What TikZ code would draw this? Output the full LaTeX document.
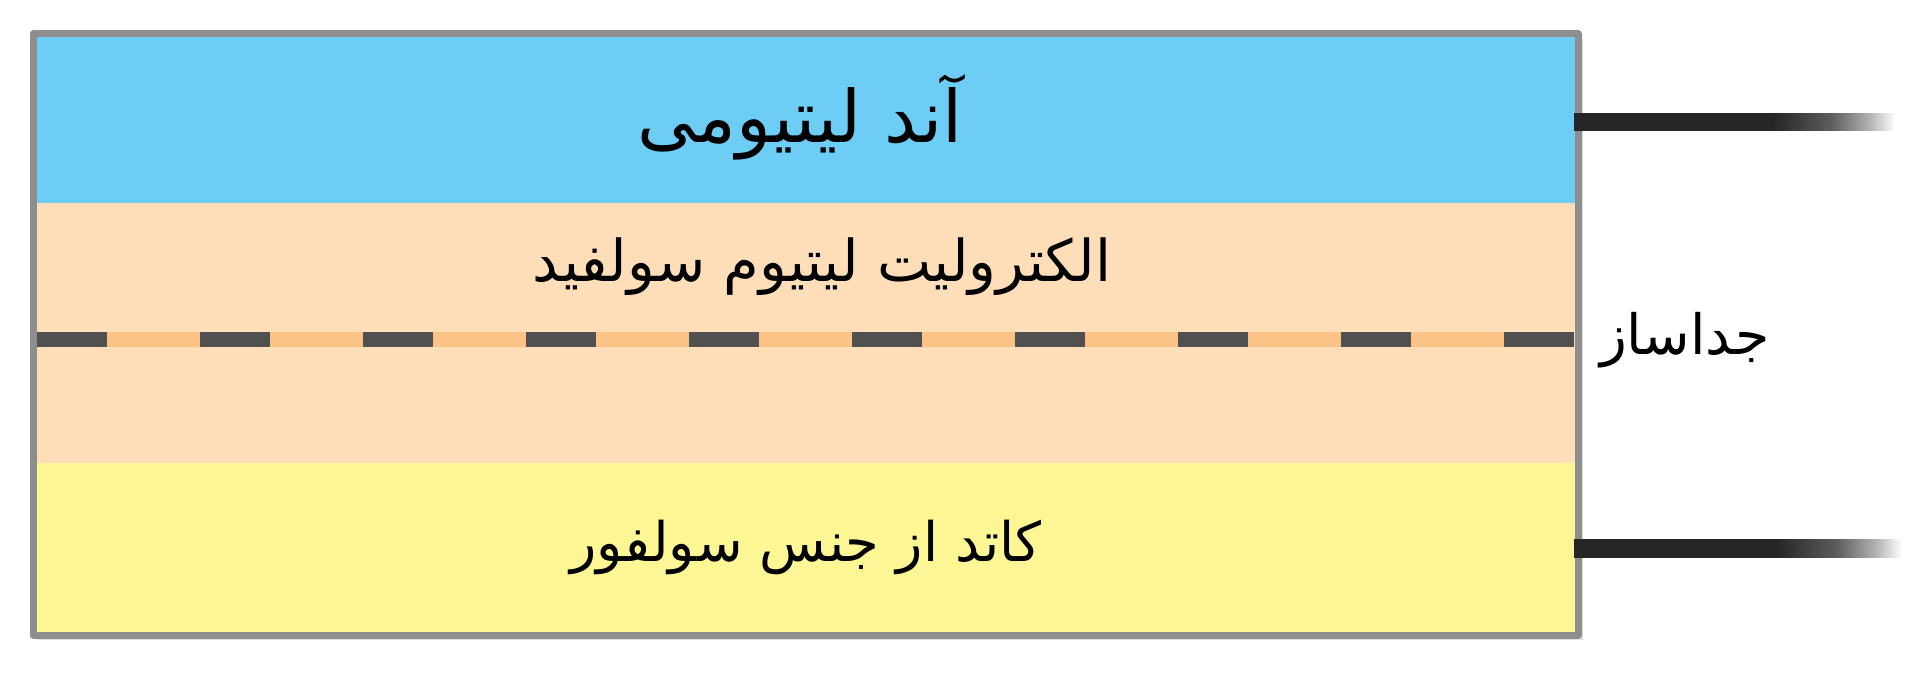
\documentclass[tikz,border=0pt]{standalone}
\usepackage{fontspec}
\newfontfamily\farsi[Script=Arabic]{DejaVu Sans}
\TeXXeTstate=1
\usetikzlibrary{positioning}
\definecolor{anodeblue}{HTML}{6ECDF5}
\definecolor{electropeach}{HTML}{FEDDB9}
\definecolor{cathodeyellow}{HTML}{FDF694}
\definecolor{sepdark}{HTML}{505050}
\definecolor{seporange}{HTML}{FBC486}
\definecolor{framegray}{HTML}{8E8E8E}
\definecolor{wiredark}{HTML}{262626}
\pgfdeclarehorizontalshading{wireshade}{100bp}{color(0bp)=(wiredark); color(25bp)=(wiredark); color(56bp)=(wiredark); color(65bp)=(wiredark!75); color(71bp)=(wiredark!35); color(75bp)=(white); color(100bp)=(white)}
\begin{document}
\begin{tikzpicture}[line join=round,thick]
	\tikzset{layer text/.style={font=\farsi\fontsize{15.8}{19}\selectfont, text=black},
		wire/.style={shading=wireshade}}
	\useasboundingbox (0,0) rectangle (19.2,6.75);
	% shadow and layers
	\fill[black!12] (0.38,0.35) rectangle (15.83,6.36);
	\fill[anodeblue] (0.33,4.72) rectangle (15.78,6.41);
	\fill[electropeach] (0.33,2.12) rectangle (15.78,4.72);
	\fill[cathodeyellow] (0.33,0.40) rectangle (15.78,2.12);
	\draw[framegray,line width=0.07cm] (0.33,0.40) rectangle (15.78,6.41);
	% separator
	\draw[seporange,line width=0.15cm,line cap=butt] (0.37,3.35)--(15.74,3.35);
	\foreach \i in {0,...,9}
	\fill[sepdark] (0.37+1.63*\i,3.275) rectangle ++(0.70,0.15);
	% terminals
	\coordinate (anodetab) at (15.74,5.53);
	\coordinate (anodeend) at (18.95,5.53);
	\coordinate (cathodetab) at (15.74,1.27);
	\coordinate (cathodeend) at (19.02,1.27);
	\coordinate (septab) at (15.82,3.35);
	\shade[wire] ([yshift=-0.085cm]anodetab) rectangle ([yshift=0.085cm]anodeend);
	\shade[wire] ([yshift=-0.09cm]cathodetab) rectangle ([yshift=0.09cm]cathodeend);
	% labels
	\node[layer text,font=\farsi\fontsize{20.6}{24}\selectfont] (anode) at (8.0,5.58) {\beginR آند لیتیومی\endR};
	\node[layer text,font=\farsi\fontsize{16.4}{20}\selectfont] (electrolyte) at (8.22,4.08) {\beginR الکترولیت لیتیوم سولفید\endR};
	\node[layer text,font=\farsi\fontsize{15.5}{19}\selectfont] (cathode) at (8.06,1.28) {\beginR کاتد از جنس سولفور\endR};
	\node[layer text,right=0.05cm of septab] (separator) {\beginR جداساز\endR};
\end{tikzpicture}
\end{document}
